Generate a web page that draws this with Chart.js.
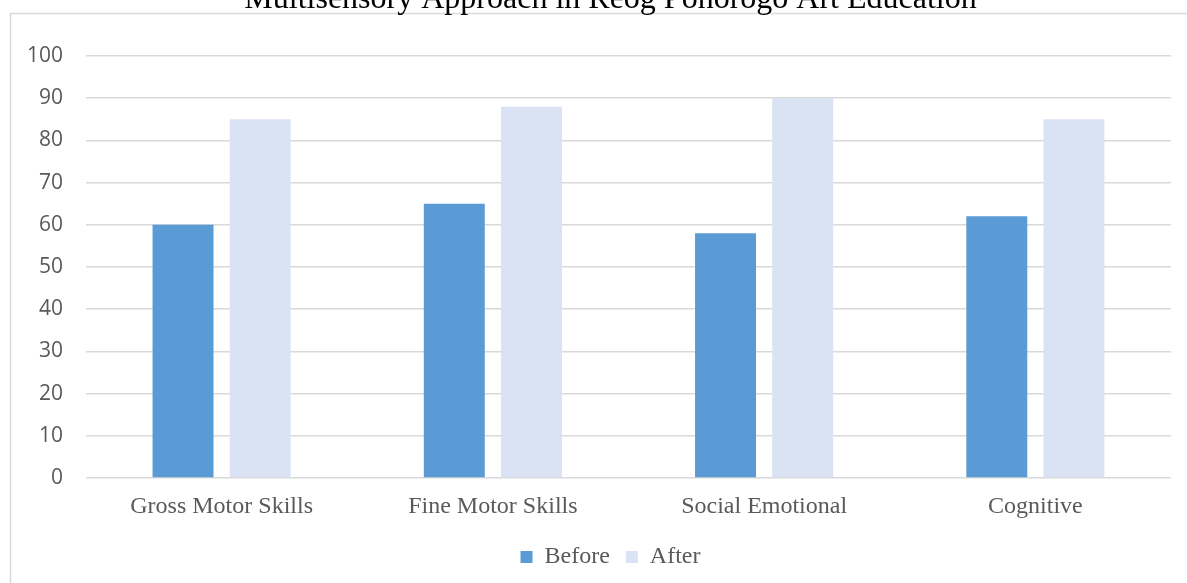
<!DOCTYPE html>
<html>
<head>
<meta charset="utf-8">
<script src="https://cdn.jsdelivr.net/npm/chart.js@4/dist/chart.umd.min.js"></script>
<style>
  html, body { margin: 0; padding: 0; background: #fff; overflow: hidden; }
  #wrap { position: absolute; left: 0; top: -30px; width: 1187px; height: 613px; }
</style>
</head>
<body>
<div id="wrap"><canvas id="chart"></canvas></div>
<script>
const categories = ['Gross Motor Skills', 'Fine Motor Skills', 'Social Emotional', 'Cognitive'];
const beforeValues = [60, 65, 58, 62];
const afterValues = [85, 88, 90, 85];
const yTicks = [0, 10, 20, 30, 40, 50, 60, 70, 80, 90, 100];

// thin grey frame around the chart body
const framePlugin = {
  id: 'frame',
  beforeDraw(chart) {
    const ctx = chart.ctx;
    ctx.save();
    ctx.strokeStyle = '#d9d9d9';
    ctx.lineWidth = 1.5;
    ctx.strokeRect(10.5, 43.5, chart.width + 50, chart.height + 50);
    ctx.restore();
  }
};

// the frame runs past the right edge, so title and legend sit centred on the wider frame
const centreShiftPlugin = {
  id: 'centreShift',
  afterLayout(chart) {
    const shift = 25;
    [chart.titleBlock, chart.legend].forEach(box => {
      if (box) { box.left += shift; box.right += shift; }
    });
  }
};

new Chart(document.getElementById('chart'), {
  type: 'bar',
  data: {
    labels: categories,
    datasets: [
      { label: 'Before', data: beforeValues, backgroundColor: '#5B9BD5', borderWidth: 0,
        categoryPercentage: 0.569, barPercentage: 0.79 },
      { label: 'After', data: afterValues, backgroundColor: '#DAE3F3', borderWidth: 0,
        categoryPercentage: 0.569, barPercentage: 0.79 }
    ]
  },
  options: {
    responsive: true,
    maintainAspectRatio: false,
    animation: false,
    layout: { padding: { left: 0, right: 16, top: 0, bottom: 4 } },
    plugins: {
      title: {
        display: true,
        text: 'Multisensory Approach in Reog Ponorogo Art Education',
        color: '#000',
        font: { family: '"Liberation Serif", "Times New Roman", serif', size: 32, weight: 'normal' },
        padding: { top: 10, bottom: 37.6 }
      },
      legend: {
        position: 'bottom',
        labels: {
          color: '#595959',
          font: { family: '"Liberation Serif", "Times New Roman", serif', size: 24 },
          boxWidth: 12,
          boxHeight: 12,
          padding: 16
        }
      },
      tooltip: { enabled: false }
    },
    scales: {
      x: {
        grid: { display: false, drawTicks: false },
        border: { display: false },
        ticks: {
          color: '#595959',
          padding: 14,
          font: { family: '"Liberation Serif", "Times New Roman", serif', size: 24 }
        },
        afterFit(scale) { scale.height = 51; }
      },
      y: {
        min: 0,
        max: 100,
        afterBuildTicks(scale) { scale.ticks = yTicks.map(v => ({ value: v })); },
        grid: { color: '#d9d9d9', lineWidth: 1.5, drawTicks: false },
        border: { display: false },
        ticks: {
          color: '#595959',
          padding: 23,
          font: { family: '"Open Sans", sans-serif', size: 21 }
        },
        afterFit(scale) { scale.width = 86; }
      }
    }
  },
  plugins: [framePlugin, centreShiftPlugin]
});
</script>
</body>
</html>
